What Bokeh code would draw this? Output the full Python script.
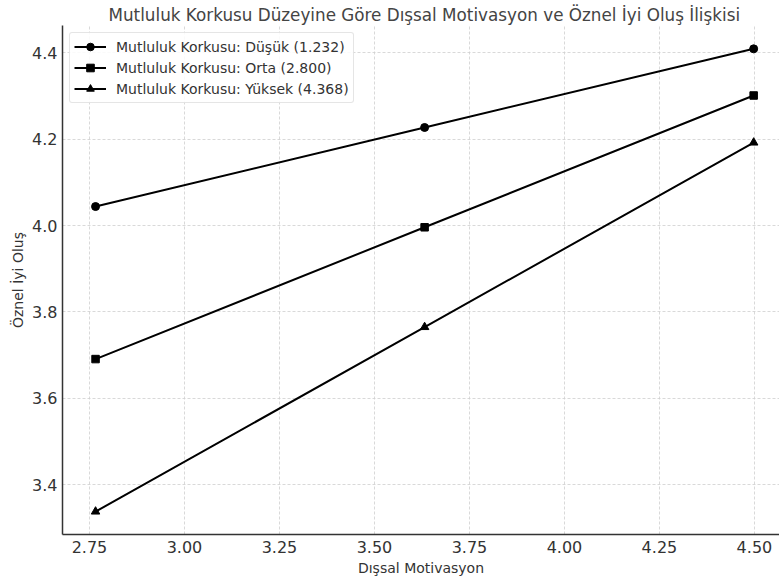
from bokeh.plotting import figure
from bokeh.models import Range1d, FixedTicker, Legend, LegendItem
from bokeh.embed import file_html
from bokeh.resources import INLINE

# Data
x_vals = [2.766, 3.632, 4.498]
dusuk = [4.044, 4.227, 4.409]
orta = [3.691, 3.996, 4.301]
yuksek = [3.338, 3.765, 4.192]
series_labels = ["Mutluluk Korkusu: Düşük (1.232)",
                 "Mutluluk Korkusu: Orta (2.800)",
                 "Mutluluk Korkusu: Yüksek (4.368)"]
x_ticks = [2.75, 3.00, 3.25, 3.50, 3.75, 4.00, 4.25, 4.50]
y_ticks = [3.4, 3.6, 3.8, 4.0, 4.2, 4.4]

title = "Mutluluk Korkusu Düzeyine Göre Dışsal Motivasyon ve Öznel İyi Oluş İlişkisi"
FONT = "DejaVu Sans"

p = figure(width=779, height=585, output_backend="svg", toolbar_location=None,
           x_range=Range1d(2.679, 4.566), y_range=Range1d(3.285, 4.463),
           min_border_left=62, min_border_right=0, min_border_top=25,
           min_border_bottom=51)

p.title.text = title
p.title.align = "left"
p.title.offset = 46
p.title.text_font = FONT
p.title.text_font_size = "16.8px"
p.title.text_font_style = "normal"
p.title.text_color = "#444444"
p.title.standoff = 2

p.outline_line_color = None
p.background_fill_color = "white"
p.border_fill_color = "white"

for ax in (p.xaxis[0], p.yaxis[0]):
    ax.axis_line_color = "#333333"
    ax.axis_line_width = 1.5
    ax.major_tick_line_color = None
    ax.major_tick_out = 0
    ax.major_tick_in = 0
    ax.minor_tick_line_color = None
    ax.major_label_text_font = FONT
    ax.major_label_text_font_size = "16px"
    ax.major_label_text_color = "#333333"
    ax.axis_label_text_font = FONT
    ax.axis_label_text_font_size = "14px"
    ax.axis_label_text_font_style = "normal"
    ax.axis_label_text_color = "#333333"

p.xaxis.ticker = FixedTicker(ticks=x_ticks)
p.yaxis.ticker = FixedTicker(ticks=y_ticks)
p.xaxis.major_label_overrides = {t: f"{t:.2f}" for t in x_ticks}
p.yaxis.major_label_overrides = {t: f"{t:.1f}" for t in y_ticks}
p.xaxis.axis_label = "Dışsal Motivasyon"
p.yaxis.axis_label = "Öznel İyi Oluş"
p.xaxis.major_label_standoff = 6
p.xaxis.axis_label_standoff = 4
p.yaxis.major_label_standoff = 5
p.yaxis.axis_label_standoff = 3

for g in (p.xgrid[0], p.ygrid[0]):
    g.grid_line_color = "#cfcfcf"
    g.grid_line_dash = "3 2"
    g.grid_line_width = 0.8

items = []
series = [dusuk, orta, yuksek]
markers = ["circle", "square", "triangle"]
sizes = [8, 7.5, 8.5]
for vals, mk, sz, lab in zip(series, markers, sizes, series_labels):
    r1 = p.line(x_vals, vals, line_color="black", line_width=2)
    r2 = p.scatter(x_vals, vals, marker=mk, size=sz, fill_color="black",
                   line_color="black")
    items.append(LegendItem(label=lab, renderers=[r1, r2]))

legend = Legend(items=items, location="top_left")
legend.label_text_font = FONT
legend.label_text_font_size = "14px"
legend.label_text_color = "#333333"
legend.glyph_width = 32
legend.glyph_height = 19
legend.label_height = 19
legend.label_standoff = 10
legend.spacing = 2
legend.padding = 4
legend.margin = 7
legend.border_line_color = "#cccccc"
legend.border_line_width = 1
legend.background_fill_alpha = 0.85
legend.border_radius = 3
p.add_layout(legend)

open("out.html", "w").write(file_html(p, INLINE))
